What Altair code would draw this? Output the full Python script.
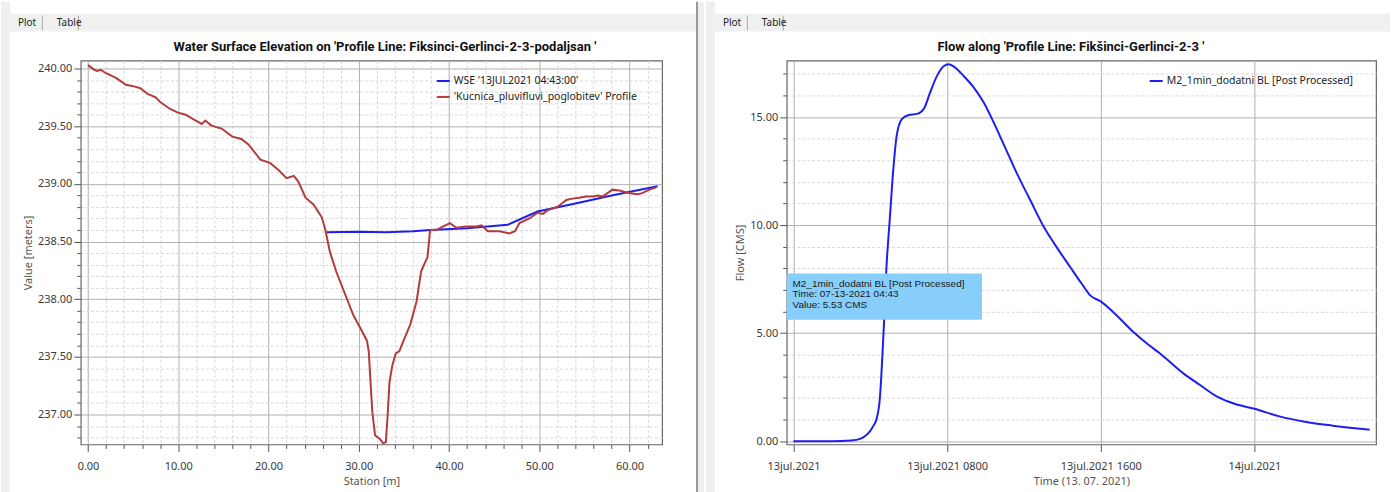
import altair as alt
import pandas as pd

# ---------------- cross section: ground profile and water surface ----------------
station_m = [0.0, 0.7, 1.0, 1.4, 2.0, 3.1, 4.2, 4.9, 5.8, 6.6, 7.5, 8.0, 9.1, 9.9,
             10.8, 11.9, 12.6, 13.0, 13.6, 14.3, 14.8, 16.0, 17.0, 17.8, 19.1, 20.2,
             21.1, 22.0, 22.8, 23.3, 24.1, 25.0, 25.9, 26.3, 26.8, 27.5, 28.4, 29.4,
             30.3, 30.9, 31.1, 31.3, 31.5, 31.8, 32.3, 32.7, 33.0, 33.2, 33.4, 33.7,
             34.1, 34.5, 34.9, 35.7, 36.4, 36.9, 37.4, 37.6, 37.9, 38.2, 38.6, 39.3,
             40.1, 40.8, 41.9, 43.0, 43.6, 44.3, 45.6, 46.7, 47.3, 47.8, 48.9, 49.8,
             50.4, 50.9, 52.0, 53.0, 53.5, 54.4, 55.2, 55.9, 56.5, 57.0, 58.1, 59.0,
             59.9, 60.9, 61.4, 62.2, 62.9]
ground_m = [240.03, 239.99, 239.98, 239.99, 239.96, 239.92, 239.86, 239.85, 239.83, 239.78, 239.75, 239.71, 239.65, 239.62,
            239.60, 239.55, 239.52, 239.55, 239.51, 239.49, 239.48, 239.41, 239.39, 239.34, 239.21, 239.18,
            239.12, 239.05, 239.07, 239.02, 238.88, 238.82, 238.71, 238.60, 238.41, 238.24, 238.06, 237.86,
            237.73, 237.64, 237.55, 237.28, 237.02, 236.82, 236.79, 236.75, 236.76, 237.00, 237.28, 237.42,
            237.53, 237.55, 237.63, 237.78, 237.98, 238.24, 238.33, 238.36, 238.60, 238.60, 238.60, 238.63,
            238.66, 238.62, 238.63, 238.63, 238.64, 238.59, 238.59, 238.57, 238.59, 238.66, 238.70, 238.75,
            238.74, 238.77, 238.80, 238.86, 238.87, 238.88, 238.89, 238.89, 238.90, 238.89, 238.95, 238.94,
            238.92, 238.91, 238.92, 238.95, 238.97]

wse_station_m = [26.4, 30.0, 33.0, 36.0, 37.9, 42.0, 46.5, 49.8, 54.0, 58.0, 63.1]
wse_m = [238.58, 238.585, 238.58, 238.59, 238.60, 238.615, 238.645, 238.76, 238.83, 238.90, 238.98]

WSE_NAME = "WSE '13JUL2021 04:43:00'"
GROUND_NAME = "'Kucnica_pluvifluvi_poglobitev' Profile"

# ---------------- hydrograph along the profile line ----------------
flow_time = ["2021-07-13T00:00Z", "2021-07-13T01:00Z", "2021-07-13T02:00Z", "2021-07-13T03:00Z",
             "2021-07-13T03:30Z", "2021-07-13T03:45Z", "2021-07-13T04:00Z", "2021-07-13T04:10Z",
             "2021-07-13T04:20Z", "2021-07-13T04:30Z", "2021-07-13T04:38Z", "2021-07-13T04:43Z",
             "2021-07-13T04:50Z", "2021-07-13T05:01Z", "2021-07-13T05:12Z", "2021-07-13T05:22Z",
             "2021-07-13T05:38Z", "2021-07-13T06:00Z", "2021-07-13T06:27Z", "2021-07-13T06:48Z",
             "2021-07-13T07:06Z", "2021-07-13T07:28Z", "2021-07-13T07:50Z", "2021-07-13T08:05Z",
             "2021-07-13T08:21Z", "2021-07-13T08:52Z", "2021-07-13T09:23Z", "2021-07-13T09:54Z",
             "2021-07-13T10:25Z", "2021-07-13T10:55Z", "2021-07-13T11:38Z", "2021-07-13T12:20Z",
             "2021-07-13T13:01Z", "2021-07-13T13:40Z", "2021-07-13T14:25Z", "2021-07-13T15:00Z",
             "2021-07-13T15:27Z", "2021-07-13T16:00Z", "2021-07-13T16:45Z", "2021-07-13T17:42Z",
             "2021-07-13T18:30Z", "2021-07-13T19:05Z", "2021-07-13T20:18Z", "2021-07-13T21:10Z",
             "2021-07-13T22:02Z", "2021-07-13T23:00Z", "2021-07-14T00:00Z", "2021-07-14T01:18Z",
             "2021-07-14T02:42Z", "2021-07-14T04:04Z", "2021-07-14T05:06Z", "2021-07-14T06:00Z"]
flow_cms = [0.00, 0.00, 0.00, 0.03,
            0.12, 0.25, 0.48, 0.72,
            1.05, 2.00, 4.00, 5.53,
            7.90, 10.30, 12.60, 14.10,
            14.90, 15.10, 15.15, 15.40,
            16.10, 16.90, 17.37, 17.45,
            17.34, 16.90, 16.38, 15.69,
            14.77, 13.80, 12.40, 11.15,
            9.95, 9.03, 8.05, 7.30,
            6.75, 6.47, 5.89, 5.05,
            4.45, 4.06, 3.14, 2.60,
            2.07, 1.72, 1.50, 1.15,
            0.89, 0.72, 0.61, 0.53]

FLOW_NAME = "M2_1min_dodatni BL [Post Processed]"
tip_lines = ["M2_1min_dodatni  BL [Post Processed]", "Time:  07-13-2021  04:43", "Value: 5.53 CMS"]

LEFT_TITLE = "Water Surface Elevation on 'Profile Line: Fiksinci-Gerlinci-2-3-podaljsan '"
RIGHT_TITLE = "Flow along 'Profile Line: Fikšinci-Gerlinci-2-3 '"

# ---------------- styling ----------------
FONT = "Noto Sans"
TITLE_FONT = "Roboto"
BLUE = "#1e1ef0"
BROWN = "#b33b3b"
PANEL_GRAY = "#f0f0f0"
MAJOR_GRID = "#b0b0b0"
MINOR_GRID = "#d8d8d8"

W_LEFT, W_RIGHT, H = 583, 591, 385
ONE = pd.DataFrame({"k": [0]})


def box(x0, x1, y0, y1, color, opacity=1.0):
    """Window chrome rectangle in pixel space of the panel."""
    return alt.Chart(ONE).mark_rect(color=color, opacity=opacity).encode(
        x=alt.value(x0), x2=alt.value(x1), y=alt.value(y0), y2=alt.value(y1))


def caption(x, y, content, size=10, weight="normal", align="left", font=FONT, color="#222"):
    return alt.Chart(ONE).mark_text(
        text=content, align=align, baseline="middle", fontSize=size,
        fontWeight=weight, font=font, color=color,
    ).encode(x=alt.value(x), y=alt.value(y))


def chrome(left, right):
    """Panel extent plus a grey tab strip holding 'Plot' and 'Table'."""
    return [
        box(left, right, -59, 433, "white", opacity=0),
        box(left, right, -47, -29, PANEL_GRAY),
        box(left, left + 9, -59, 433, PANEL_GRAY),
        box(left + 41, left + 42, -45, -30, "#a8a8a8"),
        box(left + 77, left + 78, -45, -30, "#a8a8a8"),
        caption(left + 17, -38, "Plot", size=10),
        caption(left + 56, -38, "Table", size=10),
    ]


def every(step):
    """Vega test: tick value is a whole multiple of step."""
    return f"abs(datum.value / {step} - round(datum.value / {step})) < 0.0001"


def axis_with_minor(values, major, title, label_padding, title_padding):
    return alt.Axis(
        values=values,
        labelExpr=f"{major} ? format(datum.value, '.2f') : ''",
        title=title, labelOverlap=False, labelPadding=label_padding, titlePadding=title_padding,
        gridColor={"condition": {"test": major, "value": MAJOR_GRID}, "value": MINOR_GRID},
        gridDash={"condition": {"test": major, "value": []}, "value": [3, 2]},
        tickSize={"condition": {"test": major, "value": 7}, "value": 4},
    )


# ---------------- left panel: cross section ----------------
sta_axis = axis_with_minor(list(range(0, 64, 2)), every(10), "Station [m]", 9, 4)
elev_axis = axis_with_minor([round(236.8 + 0.1 * i, 1) for i in range(33)], every(0.5), "Value [meters]", 2, 4)

sta_x = alt.X("station:Q", scale=alt.Scale(domain=[-0.8, 63.6], nice=False, zero=False), axis=sta_axis)
elev_y = alt.Y("elev:Q", scale=alt.Scale(domain=[236.74, 240.07], nice=False, zero=False), axis=elev_axis)
profile_color = alt.Color(
    "series:N",
    scale=alt.Scale(domain=[WSE_NAME, GROUND_NAME], range=[BLUE, BROWN]),
    legend=alt.Legend(title=None, orient="none", legendX=356, legendY=13, symbolType="stroke",
                      symbolSize=169, symbolStrokeWidth=2, labelFont=FONT, labelFontSize=10.5,
                      labelColor="#222", rowPadding=3, labelOffset=3, labelLimit=400),
)

wse_df = pd.DataFrame({"station": wse_station_m, "elev": wse_m, "series": WSE_NAME})
ground_df = pd.DataFrame({"station": station_m, "elev": ground_m, "series": GROUND_NAME})

wse_line = alt.Chart(wse_df).mark_line(strokeWidth=2).encode(x=sta_x, y=elev_y, color=profile_color)
ground_line = alt.Chart(ground_df).mark_line(strokeWidth=2).encode(x=sta_x, y=elev_y, color=profile_color)

left = alt.layer(
    *chrome(-80, 625),
    box(617, 625, -59, 433, PANEL_GRAY),
    box(617, 619, -59, 433, "#9a9a9a"),
    wse_line,
    ground_line,
    caption(305, -14, LEFT_TITLE, size=13, weight="bold", align="center", font=TITLE_FONT, color="#111"),
).properties(width=W_LEFT, height=H)

# ---------------- right panel: flow hydrograph ----------------
flow_axis = axis_with_minor(list(range(0, 18)), every(5), "Flow [CMS]", 2, 4)
time_axis = alt.Axis(
    values=[alt.DateTime(year=2021, month=7, date=13, hours=h, utc=True) for h in (0, 8, 16)]
    + [alt.DateTime(year=2021, month=7, date=14, hours=0, utc=True)],
    labelExpr="utcFormat(datum.value, '%djul.%Y') + (utchours(datum.value) === 0 ? '' : ' ' + utcFormat(datum.value, '%H%M'))",
    title="Time (13. 07. 2021)", labelOverlap=False, labelPadding=9, titlePadding=4,
    gridColor=MAJOR_GRID, tickSize=7,
)
time_scale = alt.Scale(type="utc", domain=[
    alt.DateTime(year=2021, month=7, date=12, hours=23, minutes=39, utc=True),
    alt.DateTime(year=2021, month=7, date=14, hours=6, minutes=20, utc=True)])
flow_scale = alt.Scale(domain=[-0.15, 17.62], nice=False, zero=False)

time_x = alt.X("time:T", scale=time_scale, axis=time_axis)
flow_y = alt.Y("flow:Q", scale=flow_scale, axis=flow_axis)
flow_color = alt.Color(
    "series:N",
    scale=alt.Scale(domain=[FLOW_NAME], range=[BLUE]),
    legend=alt.Legend(title=None, orient="none", legendX=363, legendY=13, symbolType="stroke",
                      symbolSize=169, symbolStrokeWidth=2, labelFont=FONT, labelFontSize=10.5,
                      labelColor="#222", labelOffset=3, labelLimit=400),
)
flow_df = pd.DataFrame({"time": flow_time, "flow": flow_cms, "series": FLOW_NAME})
flow_line = alt.Chart(flow_df).mark_line(strokeWidth=2, interpolate="monotone").encode(
    x=time_x, y=flow_y, color=flow_color)

# value readout box for the 04:43 sample
tip_box_df = pd.DataFrame({"time": ["2021-07-12T23:39Z"], "time_end": ["2021-07-13T09:49Z"],
                           "flow": [5.62], "flow_top": [7.76]})
tip_box = alt.Chart(tip_box_df).mark_rect(color="#87cefa").encode(
    x=time_x, x2="time_end:T", y=flow_y, y2="flow_top:Q")
tip_df = pd.DataFrame({"time": ["2021-07-12T23:57Z"] * 3, "flow": [7.27, 6.79, 6.31], "line": tip_lines})
tip_text = alt.Chart(tip_df).mark_text(
    align="left", baseline="middle", font="Liberation Sans", fontSize=10, color="#1a1a1a"
).encode(x=time_x, y=flow_y, text="line:N")

right = alt.layer(
    *chrome(-81, 605),
    flow_line,
    tip_box,
    tip_text,
    caption(285, -14, RIGHT_TITLE, size=13, weight="bold", align="center", font=TITLE_FONT, color="#111"),
).properties(width=W_RIGHT, height=H)

chart = alt.hconcat(left, right, spacing=0).resolve_scale(color="independent").properties(
    padding=0, background="white", autosize=alt.AutoSizeParams(type="pad"),
).configure_axis(
    labelFont=FONT, labelFontSize=11, labelColor="#3a3a3a", labelOverlap=False,
    titleFont=FONT, titleFontSize=11, titleFontWeight="normal", titleColor="#555",
    tickColor="#555", domain=False,
).configure_view(stroke="#666", strokeWidth=1.2)

chart.save("out.html", embed_options={"renderer": "svg", "actions": False})
